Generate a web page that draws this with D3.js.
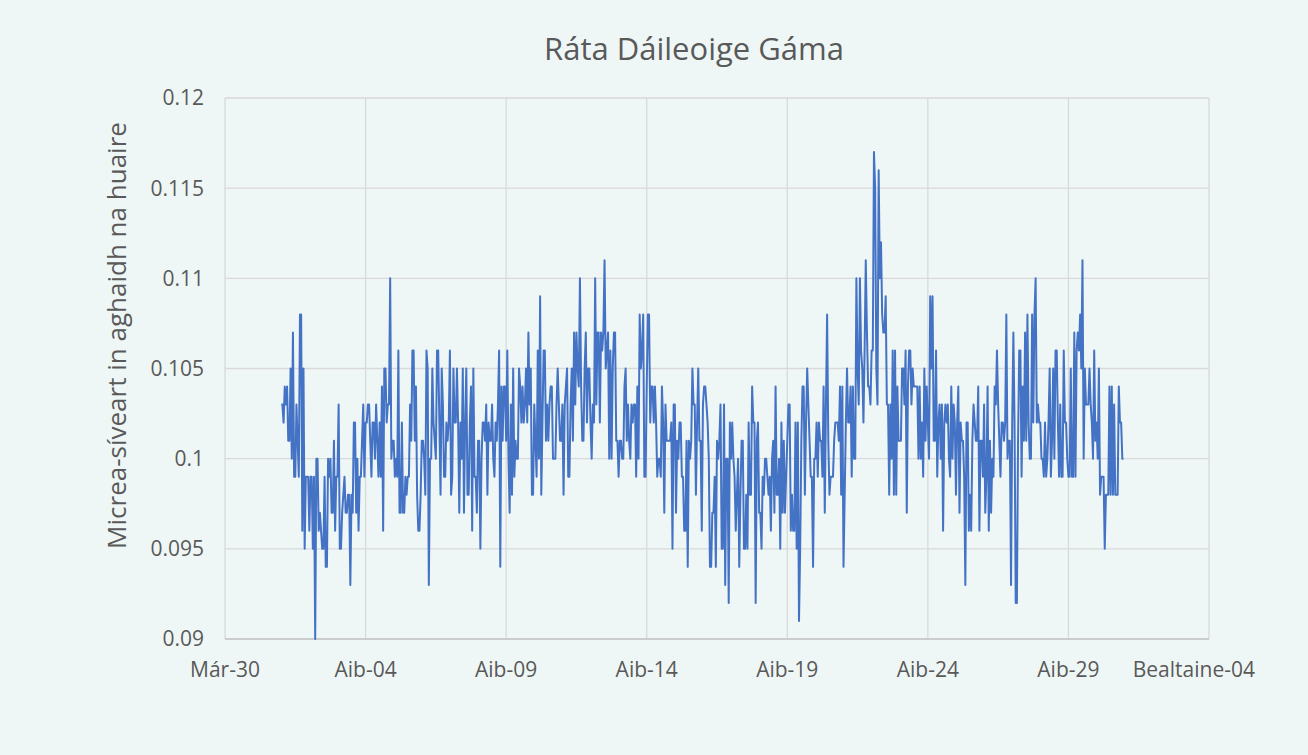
<!DOCTYPE html>
<html>
<head>
<meta charset="utf-8">
<script src="https://cdn.jsdelivr.net/npm/d3@7"></script>
<style>
  html, body { margin: 0; padding: 0; background: #eff7f6; }
  svg { display: block; font-family: "Open Sans", sans-serif; }
  .grid line { stroke: #d9d9d9; stroke-width: 1.3; }
  .tick-label { fill: #595959; font-size: 21px; }
</style>
</head>
<body>
<svg id="chart" width="1308" height="755"></svg>
<script>
// Chart data: hourly gamma dose rate, read in nSv/h (= thousandths of µSv/h)
const chartTitle = "Ráta Dáileoige Gáma";
const yTitle = "Micrea-síveart in aghaidh na huaire";
const seriesStart = new Date(2020, 3, 1, 0); // Aib-01 00:00, one value per hour

const doseRate = [
  // Aib-01 .. Aib-04
  103,103,102,104,103,104,101,101,105,100,107,99,99,
  103,101,99,108,108,96,105,95,99,99,99,96,
  99,99,95,99,90,100,100,96,97,96,95,95,99,
  94,94,100,99,100,97,97,101,96,99,99,103,
  95,95,97,98,99,97,97,98,98,93,98,97,
  102,102,97,100,96,99,99,101,103,99,102,102,
  103,103,101,99,102,102,100,103,101,99,102,
  99,104,
  // Aib-04 .. Aib-08
  96,105,105,102,103,103,110,100,101,101,99,100,
  99,106,97,97,102,97,97,99,98,99,99,
  103,101,106,106,101,104,98,96,96,98,101,101,
  100,98,106,105,93,100,100,105,102,101,100,
  106,106,102,98,105,103,99,99,102,101,102,106,
  98,99,105,102,102,105,102,97,102,100,105,
  97,102,105,98,98,102,104,96,105,99,99,
  97,101,101,95,100,102,102,101,
  // Aib-08 .. Aib-12
  103,98,102,101,101,103,100,99,102,101,103,
  106,94,104,101,104,104,101,106,100,97,103,
  98,105,99,101,100,100,105,104,102,104,102,
  103,105,102,107,103,105,98,98,103,101,99,
  106,100,109,98,102,106,106,101,103,101,103,
  104,104,100,100,100,103,105,103,101,101,103,
  98,103,104,105,99,99,103,105,101,107,103,
  107,105,104,110,104,101,101,105,107,102,105,
  // Aib-12 .. Aib-15
  105,102,100,103,102,110,103,107,107,102,107,
  106,107,111,105,106,107,100,106,100,105,
  107,107,101,101,99,101,101,100,100,104,105,
  101,103,101,100,103,102,103,103,99,104,
  100,108,105,106,108,99,99,104,108,108,
  102,104,104,102,104,102,99,100,100,99,104,
  102,97,103,101,101,101,101,102,95,103,
  103,97,101,100,102,102,99,99,96,96,101,
  94,101,100,101,105,
  // Aib-15 .. Aib-19
  103,103,98,102,105,101,101,96,103,104,104,
  103,102,100,94,94,97,97,99,94,101,100,
  101,103,95,95,103,93,100,100,92,102,
  100,102,100,99,96,98,100,94,98,101,101,
  95,95,98,95,102,98,98,104,102,102,92,
  101,102,97,97,95,99,98,100,100,99,98,
  99,96,100,101,97,104,98,98,100,95,102,
  97,101,97,99,101,103,103,96,98,96,
  96,102,95,
  // Aib-19 .. Aib-23
  102,91,95,101,104,104,98,102,105,103,101,
  99,99,94,100,100,102,99,102,101,101,99,
  104,97,103,108,101,98,99,99,99,101,102,
  102,102,101,104,98,104,94,98,102,105,102,
  102,104,99,104,100,100,110,105,103,110,106,
  105,102,106,111,107,104,104,103,106,106,
  117,115,105,103,116,110,112,108,107,107,
  109,103,103,98,103,100,106,98,106,98,104,
  101,101,101,
  // Aib-23 .. Aib-26
  105,105,103,106,97,104,106,106,103,105,
  104,104,104,104,100,104,100,102,99,105,101,
  104,102,100,109,105,109,101,101,106,99,
  102,103,100,103,96,102,103,102,103,100,
  99,104,100,103,102,98,102,104,97,102,
  101,101,99,93,102,102,96,98,96,101,
  103,102,101,101,104,96,101,101,99,103,
  97,99,104,96,101,97,100,99,104,103,
  106,103,101,99,102,102,101,
  // Aib-26 .. Aib-30
  102,108,100,101,101,93,102,107,102,92,
  92,101,106,106,99,104,101,107,101,108,
  102,100,100,108,102,108,110,102,103,102,102,
  100,100,99,102,99,100,102,105,99,101,105,
  100,106,106,102,99,103,99,99,106,102,102,
  100,99,99,105,99,99,107,99,106,107,106,
  108,105,111,100,105,103,103,103,105,103,102,
  100,106,101,102,100,105,98,99,99,99,95,
  98,98,98,104,98,104,98,103,98,98,98,
  104,102,102,100,100
];

// axis ticks
const xTickDates = [
  new Date(2020, 2, 30), new Date(2020, 3, 4), new Date(2020, 3, 9), new Date(2020, 3, 14),
  new Date(2020, 3, 19), new Date(2020, 3, 24), new Date(2020, 3, 29), new Date(2020, 4, 4)
];
const xTickLabels = ["Már-30", "Aib-04", "Aib-09", "Aib-14", "Aib-19", "Aib-24", "Aib-29", "Bealtaine-04"];
const yTicks = [0.09, 0.095, 0.1, 0.105, 0.11, 0.115, 0.12];
const yTickLabels = ["0.09", "0.095", "0.1", "0.105", "0.11", "0.115", "0.12"];

const points = doseRate.map((v, i) => ({ t: d3.timeHour.offset(seriesStart, i), v: v / 1000 }));

// SVG setup
const svg = d3.select("#chart");
const margin = { left: 225, right: 99, top: 98, bottom: 116 };
const width = +svg.attr("width"), height = +svg.attr("height");

const x = d3.scaleTime()
  .domain([xTickDates[0], xTickDates[xTickDates.length - 1]])
  .range([margin.left, width - margin.right]);
const y = d3.scaleLinear()
  .domain([yTicks[0], yTicks[yTicks.length - 1]])
  .range([height - margin.bottom, margin.top]);

// gridlines
const grid = svg.append("g").attr("class", "grid");
grid.selectAll("line.h")
  .data(yTicks.slice(1))
  .join("line")
    .attr("class", "h")
    .attr("x1", x.range()[0]).attr("x2", x.range()[1])
    .attr("y1", d => y(d)).attr("y2", d => y(d));
grid.selectAll("line.v")
  .data(xTickDates)
  .join("line")
    .attr("class", "v")
    .attr("x1", d => x(d)).attr("x2", d => x(d))
    .attr("y1", y.range()[1]).attr("y2", y.range()[0]);

// bottom axis line
svg.append("line")
  .attr("x1", x.range()[0]).attr("x2", x.range()[1])
  .attr("y1", y(yTicks[0])).attr("y2", y(yTicks[0]))
  .attr("stroke", "#bfbfbf").attr("stroke-width", 1.5);

// y tick labels
svg.append("g").selectAll("text")
  .data(yTicks)
  .join("text")
    .attr("class", "tick-label")
    .attr("x", margin.left - 21)
    .attr("y", d => y(d))
    .attr("dy", "0.35em")
    .attr("text-anchor", "end")
    .text((d, i) => yTickLabels[i]);

// x tick labels (last one is pulled in so it stays inside the chart, like the original)
const lastTick = xTickDates.length - 1;
svg.append("g").selectAll("text")
  .data(xTickDates)
  .join("text")
    .attr("class", "tick-label")
    .attr("x", (d, i) => i === lastTick ? x(d) + 46 : x(d))
    .attr("y", y(yTicks[0]) + 38)
    .attr("text-anchor", (d, i) => i === lastTick ? "end" : "middle")
    .text((d, i) => xTickLabels[i]);

// the series
const line = d3.line()
  .x(d => x(d.t))
  .y(d => y(d.v));

svg.append("path")
  .datum(points)
  .attr("fill", "none")
  .attr("stroke", "#4472c4")
  .attr("stroke-width", 2)
  .attr("stroke-linejoin", "round")
  .attr("d", line);

// titles
svg.append("text")
  .attr("x", 694)
  .attr("y", 60)
  .attr("text-anchor", "middle")
  .attr("fill", "#595959")
  .attr("font-size", 31)
  .text(chartTitle);

svg.append("text")
  .attr("transform", `translate(126,${(y.range()[0] + y.range()[1]) / 2 - 33}) rotate(-90)`)
  .attr("text-anchor", "middle")
  .attr("fill", "#595959")
  .attr("font-size", 26)
  .text(yTitle);
</script>
</body>
</html>
